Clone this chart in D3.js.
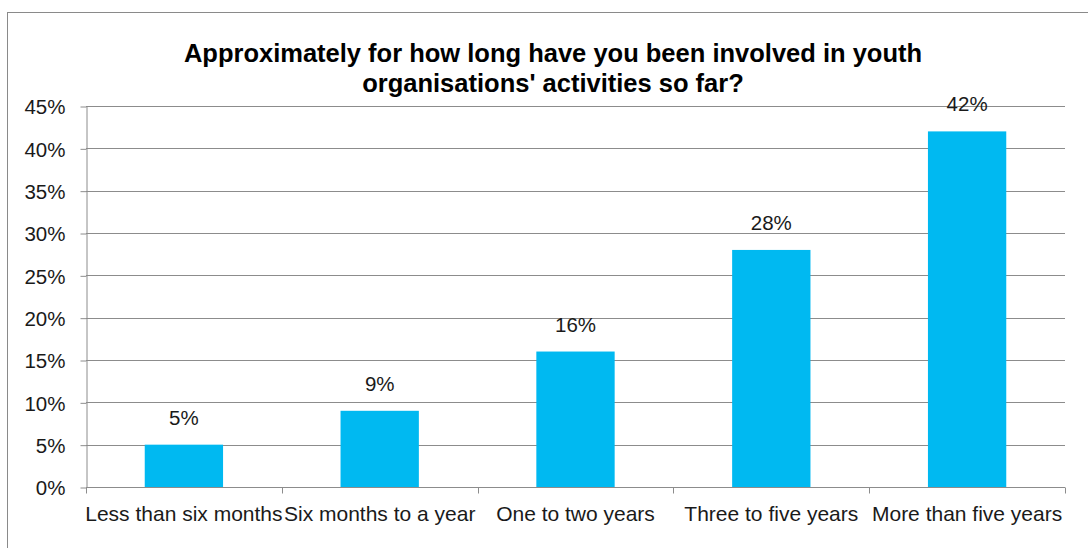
<!DOCTYPE html>
<html>
<head>
<meta charset="utf-8">
<script src="https://cdn.jsdelivr.net/npm/d3@7"></script>
<style>
  html, body { margin: 0; padding: 0; background: #fff; }
  svg { display: block; font-family: "Liberation Sans", Arial, sans-serif; }
</style>
</head>
<body>
<svg id="chart" width="1088" height="548"></svg>
<script>
// Survey answers: time spent in youth organisations
const categories = ["Less than six months", "Six months to a year", "One to two years", "Three to five years", "More than five years"];
const shares = [5, 9, 16, 28, 42];
const yTicks = [0, 5, 10, 15, 20, 25, 30, 35, 40, 45];
const titleLines = ["Approximately for how long have you been involved in youth", "organisations' activities so far?"];

const svg = d3.select("#chart");
const plot = { left: 86, right: 1065, top: 106, bottom: 487 };

// outer chart frame (runs off the right and bottom edges)
svg.append("rect")
  .attr("x", 7.5).attr("y", 12.5)
  .attr("width", 1095).attr("height", 560)
  .attr("fill", "#fff").attr("stroke", "#8a8a8a").attr("stroke-width", 1);

const x = d3.scaleBand().domain(categories).range([plot.left, plot.right]).paddingInner(0.6).paddingOuter(0.3);
const xGrid = d3.scaleBand().domain(categories).range([plot.left, plot.right]);
const y = d3.scaleLinear().domain([0, 45]).range([plot.bottom, plot.top]);

// horizontal gridlines
svg.append("g").selectAll("line").data(yTicks.filter(d => d > 0)).join("line")
  .attr("x1", plot.left).attr("x2", plot.right)
  .attr("y1", d => Math.round(y(d)) + 0.5).attr("y2", d => Math.round(y(d)) + 0.5)
  .attr("stroke", "#8c8c8c").attr("stroke-width", 1);

// y axis
const yAxis = svg.append("g")
  .attr("transform", `translate(${plot.left + 0.5},0.5)`)
  .call(d3.axisLeft(y).tickValues(yTicks).tickFormat(d => d + "%").tickSize(6).tickSizeOuter(0).tickPadding(15));
yAxis.select(".domain").attr("stroke", "#8c8c8c");
yAxis.selectAll(".tick line").attr("stroke", "#8c8c8c");
yAxis.selectAll(".tick text")
  .attr("fill", "#1a1a1a").attr("font-size", 20.5).attr("dy", "0.36em")
  .attr("font-family", "'Liberation Sans', Arial, sans-serif");

// bars
svg.append("g").selectAll("rect").data(shares).join("rect")
  .attr("x", (d, i) => x(categories[i]))
  .attr("width", x.bandwidth())
  .attr("y", d => y(d))
  .attr("height", d => plot.bottom - y(d))
  .attr("fill", "#00B9F1");

// value labels
svg.append("g").selectAll("text").data(shares).join("text")
  .attr("x", (d, i) => x(categories[i]) + x.bandwidth() / 2)
  .attr("y", d => y(d) - 20)
  .attr("text-anchor", "middle")
  .attr("font-size", 20.5).attr("fill", "#1a1a1a")
  .text(d => d + "%");

// x axis with category boundary ticks
const xAxisG = svg.append("g").attr("transform", `translate(0,${plot.bottom + 0.5})`);
xAxisG.append("line")
  .attr("x1", plot.left).attr("x2", plot.right)
  .attr("stroke", "#8c8c8c");
const boundaries = categories.map(c => xGrid(c)).concat([plot.right]);
xAxisG.selectAll("line.b").data(boundaries).join("line").attr("class", "b")
  .attr("x1", d => Math.round(d) + 0.5).attr("x2", d => Math.round(d) + 0.5)
  .attr("y1", 0).attr("y2", 6).attr("stroke", "#8c8c8c");
xAxisG.selectAll("text").data(categories).join("text")
  .attr("x", d => xGrid(d) + xGrid.bandwidth() / 2)
  .attr("y", 33)
  .attr("text-anchor", "middle")
  .attr("font-size", 21).attr("fill", "#1a1a1a")
  .text(d => d);

// title
svg.append("g").selectAll("text").data(titleLines).join("text")
  .attr("x", 553)
  .attr("y", (d, i) => 62 + i * 30)
  .attr("text-anchor", "middle")
  .attr("font-size", 25.5).attr("font-weight", "bold").attr("fill", "#000")
  .text(d => d);
</script>
</body>
</html>
